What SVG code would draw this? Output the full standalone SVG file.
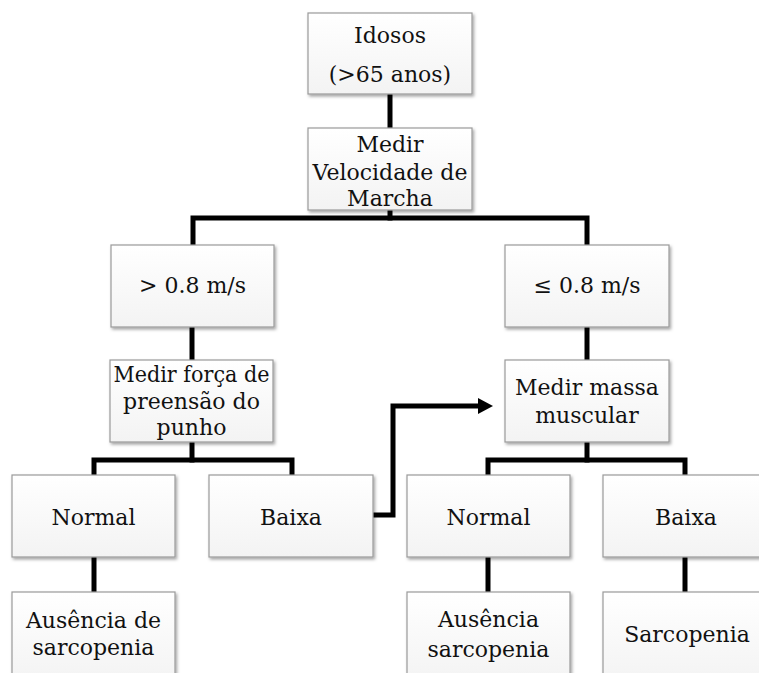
<svg xmlns="http://www.w3.org/2000/svg" width="759" height="673" viewBox="0 0 759 673">
<style>
.box{fill:url(#g);stroke:#9a9a9a;stroke-width:1.2;filter:url(#sh)}
.t{font-family:'DejaVu Serif',serif;font-size:22px;fill:#111;text-anchor:middle}
.c{fill:none;stroke:#000;stroke-width:5;stroke-linecap:square;stroke-linejoin:miter}
</style>
<defs>
<linearGradient id="g" x1="0" y1="0" x2="0" y2="1"><stop offset="0" stop-color="#ffffff"/><stop offset="1" stop-color="#f3f3f3"/></linearGradient>
<filter id="sh" x="-10%" y="-10%" width="130%" height="130%"><feDropShadow dx="1.5" dy="2" stdDeviation="1.5" flood-color="#000" flood-opacity="0.35"/></filter>
</defs>
<rect width="759" height="673" fill="#fff"/>
<g id="connectors">
<path class="c" d="M390 94V128"/>
<path class="c" d="M390 210V218"/>
<path class="c" d="M193 245V218H587V245"/>
<path class="c" d="M192 327V360"/>
<path class="c" d="M587 327V360"/>
<path class="c" d="M192 442V460"/>
<path class="c" d="M94 475V460H292V475"/>
<path class="c" d="M587 442V460"/>
<path class="c" d="M488 475V460H685V475"/>
<path class="c" d="M94 557V592"/>
<path class="c" d="M488 557V592"/>
<path class="c" d="M685 557V592"/>
<path class="c" stroke-linecap="butt" d="M373 515H393V406H479"/>
<polygon points="478,398 493,406 478,414" fill="#000"/>
</g>
<g id="idosos"><rect class="box" x="308" y="13" width="164" height="81"/><text class="t" x="390" y="43">Idosos</text><text class="t" x="390" y="82">(&gt;65 anos)</text></g>
<g id="marcha"><rect class="box" x="308" y="128" width="164" height="82"/><text class="t" x="390" y="152">Medir</text><text class="t" x="390" y="180">Velocidade de</text><text class="t" x="390" y="206">Marcha</text></g>
<g id="gt08"><rect class="box" x="111" y="245" width="163" height="82"/><text class="t" x="192.5" y="293">&gt; 0.8 m/s</text></g>
<g id="le08"><rect class="box" x="505" y="245" width="164" height="82"/><text class="t" x="587" y="293">≤ 0.8 m/s</text></g>
<g id="forca"><rect class="box" x="110" y="360" width="163" height="82"/><text class="t" x="191.5" y="382" textLength="156" lengthAdjust="spacingAndGlyphs">Medir força de</text><text class="t" x="191.5" y="409">preensão do</text><text class="t" x="191.5" y="435">punho</text></g>
<g id="massa"><rect class="box" x="505" y="360" width="164" height="82"/><text class="t" x="587" y="395">Medir massa</text><text class="t" x="587" y="423">muscular</text></g>
<g id="normal1"><rect class="box" x="12" y="475" width="163" height="82"/><text class="t" x="93.5" y="525">Normal</text></g>
<g id="baixa1"><rect class="box" x="209" y="475" width="164" height="82"/><text class="t" x="291" y="525">Baixa</text></g>
<g id="normal2"><rect class="box" x="407" y="475" width="163" height="82"/><text class="t" x="488.5" y="525">Normal</text></g>
<g id="baixa2"><rect class="box" x="603" y="475" width="166" height="82"/><text class="t" x="686" y="525">Baixa</text></g>
<g id="ausencia1"><rect class="box" x="12" y="592" width="163" height="92"/><text class="t" x="93.5" y="628">Ausência de</text><text class="t" x="93.5" y="655">sarcopenia</text></g>
<g id="ausencia2"><rect class="box" x="407" y="592" width="163" height="92"/><text class="t" x="488.5" y="627">Ausência</text><text class="t" x="488.5" y="657">sarcopenia</text></g>
<g id="sarcopenia"><rect class="box" x="603" y="592" width="166" height="92"/><text class="t" x="687" y="642">Sarcopenia</text></g>
</svg>
